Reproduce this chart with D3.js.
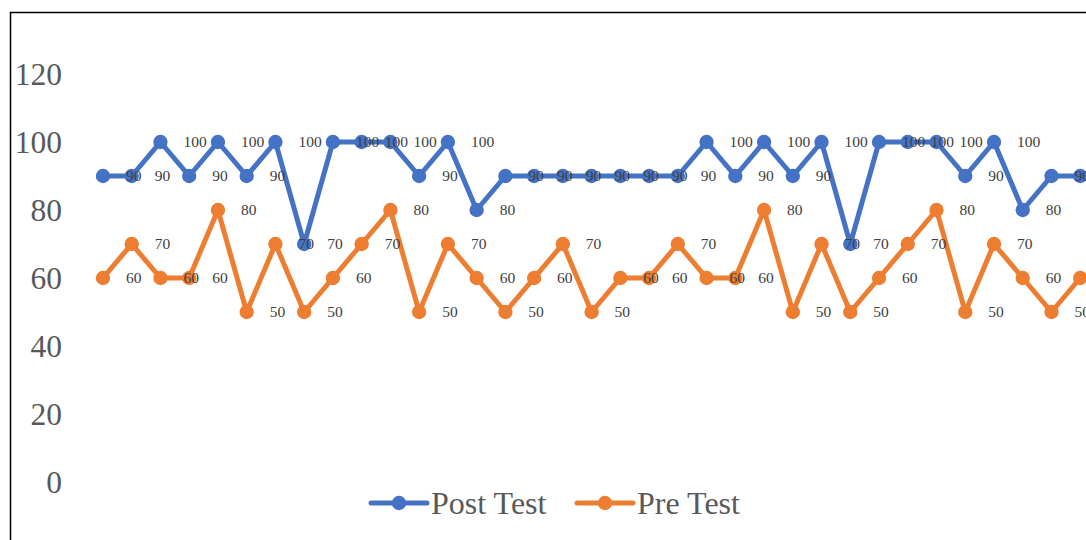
<!DOCTYPE html>
<html>
<head>
<meta charset="utf-8">
<script src="https://cdn.jsdelivr.net/npm/d3@7"></script>
<style>
  html, body { margin: 0; padding: 0; background: #fff; overflow: hidden; }
  svg { display: block; }
</style>
</head>
<body>
<svg id="chart" width="1086" height="540"></svg>
<script>
const categories = d3.range(1, 36);
const postTest = [90,90,100,90,100,90,100,70,100,100,100,90,100,80,90,90,90,90,90,90,90,100,90,100,90,100,70,100,100,100,90,100,80,90,90];
const preTest  = [60,70,60,60,80,50,70,50,60,70,80,50,70,60,50,60,70,50,60,60,70,60,60,80,50,70,50,60,70,80,50,70,60,50,60];
const yTicks = [0,20,40,60,80,100,120];
const seriesNames = ["Post Test", "Pre Test"];
const seriesColors = ["#4472C4", "#ED7D31"];

const svg = d3.select("#chart");
const font = "'Liberation Serif', 'Times New Roman', serif";

// outer border
svg.append("rect").attr("x", 10.5).attr("y", 12.5).attr("width", 1100).attr("height", 560)
  .attr("fill", "#fff").attr("stroke", "#000").attr("stroke-width", 1.5);

const x = d3.scaleBand().domain(categories).range([88.6, 1094.6]).paddingInner(0).paddingOuter(0);
const y = d3.scaleLinear().domain([0, 120]).range([482, 74]);
const cx = d => x(d) + x.bandwidth() / 2;

// y axis labels
const yAxis = d3.axisLeft(y).tickValues(yTicks).tickSize(0).tickPadding(0);
const ga = svg.append("g").attr("transform", "translate(62,0)").call(yAxis);
ga.select(".domain").remove();
ga.selectAll("text").attr("font-family", font).attr("font-size", 31.5).attr("fill", "#595959").attr("dy", "0.33em");

const series = [postTest, preTest];
const line = d3.line().x((d, i) => cx(categories[i])).y(d => y(d));

series.forEach((vals, si) => {
  const g = svg.append("g");
  g.append("path").datum(vals).attr("d", line).attr("fill", "none")
    .attr("stroke", seriesColors[si]).attr("stroke-width", 5).attr("stroke-linejoin", "round");
  g.selectAll("circle").data(vals).join("circle")
    .attr("cx", (d, i) => cx(categories[i])).attr("cy", d => y(d)).attr("r", 7.2)
    .attr("fill", seriesColors[si]);
});

series.forEach((vals, si) => {
  svg.append("g").selectAll("text").data(vals).join("text")
    .attr("x", (d, i) => cx(categories[i]) + 23).attr("y", d => y(d))
    .attr("dy", "0.35em")
    .attr("font-family", font).attr("font-size", 15.5).attr("fill", "#404040")
    .text(d => d);
});

// legend
const legendItems = [{x: 371, tx: 431}, {x: 577, tx: 637}];
legendItems.forEach((it, i) => {
  const g = svg.append("g");
  g.append("line").attr("x1", it.x).attr("x2", it.x + 56).attr("y1", 503).attr("y2", 503)
    .attr("stroke", seriesColors[i]).attr("stroke-width", 5).attr("stroke-linecap", "round");
  g.append("circle").attr("cx", it.x + 28).attr("cy", 503).attr("r", 7.2).attr("fill", seriesColors[i]);
  g.append("text").attr("x", it.tx).attr("y", 503).attr("dy", "0.35em")
    .attr("font-family", font).attr("font-size", 32).attr("fill", "#595959").text(seriesNames[i]);
});
</script>
</body>
</html>
